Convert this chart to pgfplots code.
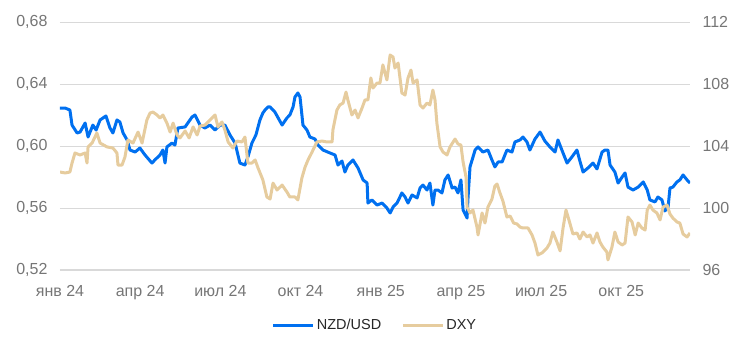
\documentclass[border=0pt]{standalone}
\usepackage{fontspec}
\setmainfont{Liberation Sans}
\usepackage{pgfplots}
\pgfplotsset{compat=1.18}
\usepackage{pgfplotstable}
\definecolor{nzd}{RGB}{0,112,240}
\definecolor{dxy}{RGB}{230,204,158}
\definecolor{gridc}{RGB}{217,217,217}
\definecolor{tickc}{RGB}{118,118,118}
\definecolor{legc}{RGB}{38,38,38}

\pgfplotstableread{
m v
0 0.6245
0.19 0.6245
0.37 0.6232
0.45 0.6135
0.64 0.6084
0.75 0.6090
0.94 0.6148
1.05 0.6058
1.23 0.6135
1.35 0.6103
1.50 0.6168
1.72 0.6194
1.87 0.6116
1.98 0.6084
2.13 0.6168
2.24 0.6155
2.36 0.6084
2.51 0.6039
2.62 0.5974
2.81 0.5961
2.99 0.5987
3.18 0.5942
3.44 0.5890
3.55 0.5910
3.74 0.5942
3.85 0.5974
3.93 0.5890
4.00 0.5994
4.19 0.6019
4.30 0.6006
4.41 0.6116
4.68 0.6123
4.94 0.6187
5.05 0.6200
5.24 0.6135
5.42 0.6116
5.61 0.6135
5.80 0.6103
5.99 0.6135
6.17 0.6135
6.36 0.6071
6.55 0.6019
6.73 0.5890
6.92 0.5877
7.03 0.5929
7.18 0.6019
7.33 0.6071
7.48 0.6168
7.59 0.6213
7.67 0.6232
7.78 0.6252
7.86 0.6252
8.04 0.6219
8.31 0.6135
8.49 0.6181
8.60 0.6200
8.72 0.6252
8.79 0.6316
8.90 0.6342
8.98 0.6316
9.09 0.6135
9.24 0.6103
9.35 0.6058
9.54 0.6045
9.65 0.6006
9.84 0.5974
10.10 0.5955
10.29 0.5942
10.40 0.5877
10.55 0.5903
10.66 0.5832
10.77 0.5877
10.96 0.5910
11.15 0.5858
11.34 0.5781
11.49 0.5761
11.52 0.5632
11.67 0.5652
11.86 0.5619
12.05 0.5632
12.23 0.5600
12.35 0.5568
12.46 0.5606
12.61 0.5632
12.79 0.5697
12.91 0.5671
13.02 0.5632
13.17 0.5684
13.36 0.5665
13.47 0.5729
13.58 0.5748
13.73 0.5716
13.84 0.5761
13.95 0.5619
14.03 0.5716
14.14 0.5716
14.29 0.5697
14.40 0.5781
14.52 0.5813
14.67 0.5729
14.78 0.5735
14.89 0.5697
15.00 0.5781
15.08 0.5587
15.23 0.5535
15.26 0.5652
15.34 0.5865
15.53 0.5974
15.64 0.5994
15.82 0.5961
16.01 0.5974
16.16 0.5910
16.27 0.5865
16.39 0.5897
16.54 0.5897
16.72 0.5974
16.91 0.5961
17.02 0.6026
17.21 0.6039
17.32 0.6058
17.47 0.6026
17.58 0.5974
17.77 0.6045
17.96 0.6090
18.14 0.6032
18.33 0.5994
18.52 0.5961
18.63 0.6039
18.82 0.5955
18.97 0.5890
19.15 0.5929
19.34 0.5974
19.45 0.5903
19.57 0.5832
19.75 0.5858
19.94 0.5890
20.09 0.5852
20.28 0.5961
20.39 0.5974
20.50 0.5974
20.58 0.5877
20.76 0.5832
20.88 0.5761
21.03 0.5800
21.14 0.5826
21.25 0.5735
21.44 0.5716
21.63 0.5735
21.82 0.5768
21.97 0.5716
22.07 0.5652
22.26 0.5639
22.37 0.5671
22.52 0.5652
22.63 0.5581
22.75 0.5606
22.82 0.5729
22.93 0.5735
23.08 0.5768
23.19 0.5781
23.31 0.5813
23.46 0.5781
23.57 0.5761
}\nzdtable

\pgfplotstableread{
m v
0 102.32
0.19 102.26
0.37 102.32
0.45 102.90
0.56 103.55
0.75 103.42
0.94 103.55
1.01 102.90
1.05 103.94
1.20 104.19
1.38 104.84
1.50 104.19
1.76 103.94
1.98 103.87
2.13 103.55
2.17 102.77
2.32 102.77
2.43 103.29
2.54 104.39
2.73 104.19
2.92 104.90
3.07 104.19
3.25 105.68
3.37 106.13
3.48 106.19
3.63 106.00
3.74 105.81
3.85 106.00
4.00 105.48
4.12 104.90
4.23 105.48
4.38 104.71
4.49 104.52
4.68 104.97
4.83 104.52
4.98 105.23
5.13 104.71
5.24 105.29
5.42 105.35
5.61 105.68
5.80 106.00
5.91 105.23
6.06 105.55
6.17 105.03
6.29 104.26
6.47 103.87
6.62 104.32
6.81 104.26
6.92 104.58
7.03 102.90
7.18 102.90
7.30 103.10
7.41 102.58
7.59 101.81
7.74 100.71
7.86 100.58
7.97 101.61
8.12 101.16
8.31 101.48
8.49 101.03
8.60 100.71
8.79 100.71
8.90 100.52
9.05 101.94
9.17 102.65
9.28 103.10
9.43 103.61
9.61 104.26
9.80 104.32
9.99 104.26
10.18 104.26
10.21 105.03
10.36 106.32
10.47 106.65
10.59 106.77
10.70 107.48
10.77 106.97
10.92 106.00
11.04 106.32
11.15 105.81
11.30 106.45
11.41 106.97
11.52 106.97
11.63 108.39
11.71 107.74
11.86 108.06
11.97 108.06
12.08 109.23
12.23 108.26
12.35 109.87
12.46 109.74
12.53 109.03
12.65 109.35
12.79 107.42
12.91 107.29
13.02 108.39
13.13 108.90
13.21 108.06
13.36 108.26
13.47 106.65
13.58 106.45
13.73 106.77
13.84 106.65
13.95 107.61
14.03 106.97
14.10 105.48
14.22 103.94
14.33 103.61
14.48 103.42
14.59 103.94
14.78 104.45
14.89 104.13
15.00 104.06
15.08 102.97
15.19 102.00
15.23 100.06
15.34 99.68
15.45 99.87
15.60 98.77
15.64 98.26
15.79 99.68
15.90 99.03
16.01 100.06
16.16 100.58
16.27 101.42
16.35 101.55
16.46 100.97
16.57 100.45
16.72 99.42
16.84 99.48
16.97 99.03
17.10 98.97
17.21 98.77
17.32 98.71
17.51 98.71
17.66 98.26
17.77 97.74
17.88 96.97
18.03 97.10
18.22 97.42
18.33 97.74
18.44 98.45
18.59 97.81
18.71 97.23
18.82 98.71
18.93 99.87
19.04 99.23
19.19 98.32
19.34 98.39
19.45 98.00
19.57 98.45
19.72 98.13
19.83 98.26
19.94 97.74
20.09 98.39
20.20 97.81
20.31 97.48
20.46 97.16
20.50 96.65
20.65 97.48
20.76 98.45
20.88 97.81
21.03 97.61
21.14 97.74
21.25 99.42
21.40 99.10
21.52 98.26
21.63 99.03
21.77 98.71
21.89 98.58
21.97 99.87
22.07 100.19
22.18 99.87
22.33 99.68
22.45 99.23
22.56 100.06
22.71 100.19
22.82 99.61
22.93 99.35
23.08 99.10
23.19 99.03
23.31 98.32
23.46 98.13
23.57 98.39
}\dxytable

\begin{document}
\begin{tikzpicture}[x=1pt,y=1pt]
\path[use as bounding box] (-60,-85) rectangle (686,270);
\pgfplotsset{
  base/.style={
    at={(0,0)}, anchor=south west,
    scale only axis, width=630pt, height=248pt,
    xmin=0, xmax=23.57,
    major tick length=0pt,
    tick style={draw=none},
    tick label style={font=\fontsize{16}{19}\selectfont, text=tickc},
    /pgf/number format/assume math mode=true,
  }
}
\begin{axis}[base,
  ymin=0.52, ymax=0.68,
  ytick={0.52,0.56,0.60,0.64,0.68},
  yticklabel style={/pgf/number format/fixed, /pgf/number format/fixed zerofill,
    /pgf/number format/precision=2, /pgf/number format/use comma, xshift=-9pt},
  xtick={0,3,6,9,12,15,18,21},
  xticklabels={янв 24, апр 24, июл 24, окт 24, янв 25, апр 25, июл 25, окт 25},
  xticklabel style={yshift=-12pt},
  axis x line*=bottom, axis y line*=left,
  x axis line style={gridc, line width=1.4pt},
  y axis line style={draw=none},
  ymajorgrids, grid style={gridc, line width=0.8pt},
]
\addplot[nzd, line width=3pt, line join=round] table[x=m, y=v] {\nzdtable};
\end{axis}
\begin{axis}[base,
  ymin=96, ymax=112,
  ytick={96,100,104,108,112},
  yticklabel style={xshift=9pt},
  axis y line*=right, axis x line=none,
  y axis line style={draw=none},
  legend style={at={(axis description cs:0.5,-0.222)}, anchor=center,
    legend columns=2, draw=none, fill=none,
    font=\fontsize{14.5}{17}\selectfont, text=legc,
    /tikz/every even column/.append style={column sep=18pt},
    legend cell align=left},
  legend image code/.code={\draw[#1] (0pt,0pt) -- (40pt,0pt);},
]
\addlegendimage{nzd, line width=3pt}
\addlegendentry{NZD/USD}
\addplot[dxy, line width=3pt, line join=round] table[x=m, y=v] {\dxytable};
\addlegendentry{DXY}
\end{axis}
\end{tikzpicture}
\end{document}
